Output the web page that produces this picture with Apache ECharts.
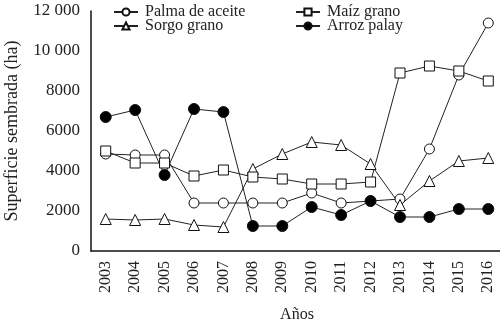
<!DOCTYPE html>
<html>
<head>
<meta charset="utf-8">
<script src="https://cdn.jsdelivr.net/npm/echarts@6/dist/echarts.min.js"></script>
<style>html,body{margin:0;padding:0;background:#fff}#c{width:500px;height:324px}</style>
</head>
<body>
<div id="c"></div>
<script>
var years = ['2003','2004','2005','2006','2007','2008','2009','2010','2011','2012','2013','2014','2015','2016'];
var palma = [4850, 4800, 4800, 2400, 2400, 2400, 2400, 2900, 2400, 2500, 2600, 5100, 8800, 11400];
var maiz  = [5000, 4400, 4400, 3750, 4050, 3700, 3600, 3350, 3350, 3450, 8900, 9250, 9000, 8500];
var sorgo = [1600, 1550, 1600, 1300, 1200, 4100, 4850, 5450, 5300, 4350, 2300, 3500, 4500, 4650];
var arroz = [6700, 7050, 3800, 7100, 6950, 1250, 1250, 2200, 1800, 2500, 1700, 1700, 2100, 2100];
var yTicks = [0, 2000, 4000, 6000, 8000, 10000, 12000];

var FONT = '"Liberation Serif", "DejaVu Serif", serif';
var TXT = '#222';
function mk(name, data, symbol, fill, size) {
  return {
    name: name, type: 'line', data: data, symbol: symbol, symbolSize: size,
    showAllSymbol: true,
    lineStyle: { color: '#222', width: 1 },
    itemStyle: { color: fill, borderColor: '#111', borderWidth: 1 },
    emphasis: { disabled: true },
    animation: false
  };
}
var legText = { fontFamily: FONT, fontSize: 16, color: TXT, lineHeight: 14, padding: [0, 0, 0, 2] };
var chart = echarts.init(document.getElementById('c'), null, { renderer: 'canvas' });
chart.setOption({
  animation: false,
  textStyle: { fontFamily: FONT, color: TXT },
  grid: { left: 91, right: -3, top: 11, bottom: 73, containLabel: false, outerBoundsMode: 'none' },
  legend: [
    { data: ['Palma de aceite', 'Sorgo grano'], orient: 'vertical', left: 108, top: -1, itemGap: -2,
      itemWidth: 24, itemHeight: 9, textStyle: legText },
    { data: ['Maíz grano', 'Arroz palay'], orient: 'vertical', left: 290, top: -1, itemGap: -2,
      itemWidth: 24, itemHeight: 9, textStyle: legText }
  ],
  xAxis: {
    type: 'category', data: years, boundaryGap: true,
    name: 'Años', nameLocation: 'middle', nameGap: 56,
    nameTextStyle: { fontFamily: FONT, fontSize: 16, color: TXT },
    axisLine: { lineStyle: { color: '#111', width: 1.5 } },
    axisTick: { show: false },
    axisLabel: { rotate: 90, fontFamily: FONT, fontSize: 16, color: TXT, margin: 10, interval: 0 },
    splitLine: { show: false }
  },
  yAxis: {
    type: 'value', min: yTicks[0], max: yTicks[yTicks.length - 1], interval: 2000,
    name: 'Superficie sembrada (ha)', nameLocation: 'middle', nameGap: 70,
    nameTextStyle: { fontFamily: FONT, fontSize: 18, color: TXT },
    axisLine: { show: true, lineStyle: { color: '#111', width: 1.5 } },
    axisTick: { show: false },
    axisLabel: { fontFamily: FONT, fontSize: 17, color: TXT, margin: 11,
      formatter: function (v) { return v >= 10000 ? String(v).replace(/(\d+)(\d{3})$/, '$1 $2') : String(v); } },
    splitLine: { show: false }
  },
  series: [
    mk('Palma de aceite', palma, 'circle', '#fff', 10),
    mk('Sorgo grano', sorgo, 'triangle', '#fff', 11),
    mk('Maíz grano', maiz, 'rect', '#fff', 10),
    mk('Arroz palay', arroz, 'circle', '#000', 11)
  ]
});
</script>
</body>
</html>
